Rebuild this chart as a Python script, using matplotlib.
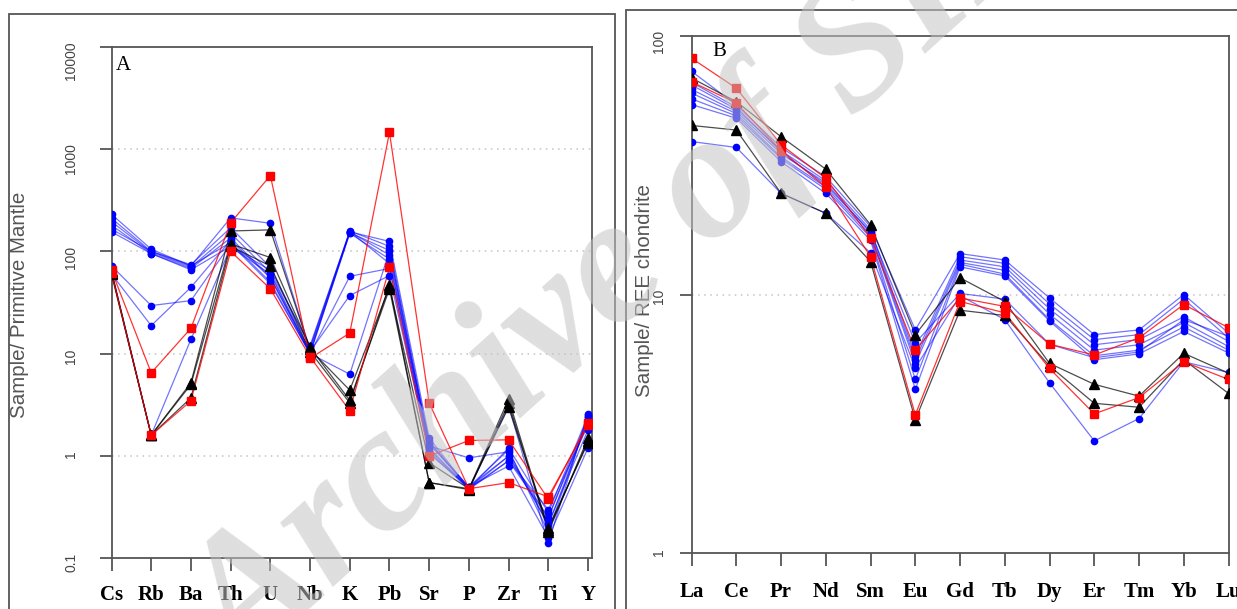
import matplotlib
matplotlib.use("Agg")
import matplotlib.pyplot as plt
from matplotlib.patches import Rectangle
from matplotlib.ticker import NullLocator

# === Data ===
spider_elements = ["Cs", "Rb", "Ba", "Th", "U", "Nb", "K", "Pb", "Sr", "P", "Zr", "Ti", "Y"]
spider_yticks = [0.1, 1, 10, 100, 1000, 10000]

spider_blue = [
    [230, 105, 72, 212, 188, 11.0, 155, 125, 1.5, 0.48, 1.2, 0.28, 2.5],
    [210, 100, 74, 170, 70, 11.5, 158, 112, 1.35, 0.50, 1.0, 0.25, 2.4],
    [195, 98, 70, 150, 62, 10.5, 152, 102, 1.25, 0.96, 1.1, 0.21, 2.2],
    [180, 95, 68, 135, 56, 10.0, 155, 92, 1.15, 0.48, 0.9, 0.30, 2.0],
    [165, 100, 72, 122, 50, 10.0, 150, 84, 1.05, 0.50, 0.8, 0.16, 1.2],
    [155, 95, 66, 112, 65, 12.0, 156, 76, 1.40, 0.47, 3.1, 0.14, 2.6],
    [72, 29.5, 33, 118, 48, 10.0, 57, 68, 1.2, 0.48, 1.0, 0.22, 1.8],
    [60, 18.8, 44.5, 128, 55, 10.5, 37, 58, 1.1, 0.47, 0.9, 0.25, 2.2],
    [64, 1.6, 13.8, 110, 60, 10.0, 6.3, 100, 1.3, 0.50, 1.15, 0.18, 2.4],
]
spider_black = [
    [64, 1.6, 5.2, 158, 162, 11.0, 4.4, 45, 0.86, 0.48, 3.6, 0.19, 1.4],
    [62, 1.6, 5.0, 118, 87, 11.5, 3.5, 43, 0.55, 0.47, 3.3, 0.18, 1.5],
    [60, 1.6, 3.7, 112, 72, 10.5, 3.3, 47, 0.55, 0.48, 3.0, 0.20, 1.35],
]
spider_red = [
    [65, 6.5, 17.7, 190, 550, 9.0, 15.9, 1450, 3.3, 0.48, 0.55, 0.40, 2.0],
    [62, 1.6, 3.46, 100, 43, 9.3, 2.77, 69.5, 1.0, 1.42, 1.44, 0.38, 2.1],
]

ree_elements = ["La", "Ce", "Pr", "Nd", "Sm", "Eu", "Gd", "Tb", "Dy", "Er", "Tm", "Yb", "Lu"]
ree_yticks = [1, 10, 100]

ree_blue = [
    [72.8, 54.0, 37.0, 28.5, 18.3, 7.3, 14.4, 13.6, 9.7, 7.0, 7.3, 10.0, 7.1],
    [64.5, 52.0, 36.0, 27.5, 17.8, 5.8, 14.0, 13.2, 9.2, 6.7, 7.0, 9.6, 6.8],
    [62.0, 51.0, 35.0, 27.0, 17.3, 5.6, 13.6, 12.8, 8.8, 6.4, 6.7, 8.2, 6.6],
    [60.0, 50.0, 34.0, 26.0, 17.0, 5.4, 13.3, 12.4, 8.4, 6.1, 6.4, 7.8, 6.3],
    [57.0, 49.0, 33.5, 25.5, 16.6, 4.7, 13.1, 12.0, 8.0, 5.8, 6.1, 7.5, 6.1],
    [54.2, 48.0, 32.6, 24.6, 16.2, 4.3, 12.8, 11.8, 7.9, 5.6, 5.9, 7.2, 5.95],
    [66.0, 53.0, 35.5, 26.5, 17.5, 6.5, 10.1, 9.6, 6.43, 5.7, 6.0, 8.0, 6.9],
    [39.0, 37.0, 24.6, 20.6, 14.5, 5.2, 9.9, 8.0, 4.56, 2.72, 3.32, 5.5, 5.0],
]
ree_black = [
    [68.6, 55.6, 40.7, 30.5, 18.6, 7.0, 11.6, 9.4, 5.42, 4.5, 4.05, 5.93, 4.97],
    [45.0, 43.2, 24.6, 20.6, 13.4, 3.28, 8.7, 8.3, 5.3, 3.8, 3.67, 5.6, 4.15],
]
ree_red = [
    [81.8, 62.7, 37.9, 28.1, 16.6, 6.1, 9.7, 9.0, 6.43, 5.84, 6.8, 9.15, 7.45],
    [66.3, 55.0, 36.0, 26.0, 14.0, 3.43, 9.4, 8.5, 5.18, 3.46, 4.0, 5.5, 4.7],
]

# === Figure (pixel helpers) ===
W, H = 1237, 609
fig = plt.figure(figsize=(W / 100, H / 100), dpi=100)


def fx(x):
    return x / W


def fy(y):
    return 1 - y / H


SANS = "Liberation Sans"
SERIF = "Liberation Serif"
EDGE = "#555555"


def draw_panel(ax, labels, blue, black, red, yticks, xmax, ypad, xpad):
    xs = list(range(len(labels)))
    for row in blue:
        ax.plot(xs, row, color="#0000ff", lw=0.9, alpha=0.55, zorder=3)
        ax.plot(xs, row, ls="none", marker="o", ms=4.5, color="#0000ff", zorder=4)
    for row in black:
        ax.plot(xs, row, color="black", lw=0.9, alpha=0.7, zorder=3)
        ax.plot(xs, row, ls="none", marker="^", ms=6.5, color="black", zorder=4)
    for row in red:
        ax.plot(xs, row, color="#ff0000", lw=0.9, alpha=0.8, zorder=3)
        ax.plot(xs, row, ls="none", marker="s", ms=6, color="#ff0000", zorder=4)

    ax.set_yscale("log")
    ax.set_ylim(yticks[0], yticks[-1])
    ax.set_xlim(0, xmax)
    ax.set_yticks(yticks)
    ax.set_yticklabels([("%g" % t) for t in yticks], fontfamily=SANS)
    ax.yaxis.set_minor_locator(NullLocator())
    for t in yticks[1:-1]:
        ax.axhline(t, color="#c4c4c4", lw=1.1, ls=(0, (1, 3)), zorder=1)

    ax.set_xticks(xs)
    ax.set_xticklabels(labels, fontfamily=SERIF, fontweight="bold", fontsize=15)
    ax.tick_params(axis="both", direction="out", length=9, width=1.3, color=EDGE)
    ax.tick_params(axis="y", labelsize=10, labelcolor="#444444", labelrotation=90, pad=ypad)
    ax.tick_params(axis="x", pad=xpad)
    for s in ax.spines.values():
        s.set_color(EDGE)
        s.set_linewidth(1.3)


# === Panel A ===
axA = fig.add_axes([fx(111.5), fy(558.4), fx(592 - 111.5), (558.4 - 46.6) / H])
draw_panel(axA, spider_elements, spider_blue, spider_black, spider_red,
           spider_yticks, 12.1, 15, 10)

# === Panel B ===
axB = fig.add_axes([fx(691.6), fy(553.4), fx(1228.5 - 691.6), (553.4 - 35.7) / H])
draw_panel(axB, ree_elements, ree_blue, ree_black, ree_red,
           ree_yticks, 12, 9.5, 11.5)

# outer frames round each panel
fig.add_artist(Rectangle((fx(8.7), fy(700)), fx(615 - 8.7), (700 - 14.4) / H,
                         transform=fig.transFigure, fill=False, ec=EDGE, lw=1.3))
fig.add_artist(Rectangle((fx(625.5), fy(700)), fx(1400 - 625.5), (700 - 10) / H,
                         transform=fig.transFigure, fill=False, ec=EDGE, lw=1.3))

# axis titles and panel letters
fig.text(fx(20), fy(305), "Sample/ Primitive Mantle", rotation=90, ha="center",
         va="center", fontsize=14.8, color="#555555", family=SANS)
fig.text(fx(644.6), fy(290.6), "Sample/ REE chondrite", rotation=90, ha="center",
         va="center", fontsize=14.8, color="#555555", family=SANS)
fig.text(fx(115.5), fy(70), "A", fontsize=15, family=SERIF, va="baseline")
fig.text(fx(712.5), fy(56.3), "B", fontsize=15, family=SERIF, va="baseline")

# watermark across both panels
fig.text(fx(244), fy(676), "Archive of SID", rotation=42, rotation_mode="anchor",
         ha="left", va="baseline", fontsize=130, family=SERIF, fontweight="bold",
         fontstyle="italic", color="#c4c4c4", alpha=0.55, zorder=10)

fig.savefig("out.png", dpi=100)
